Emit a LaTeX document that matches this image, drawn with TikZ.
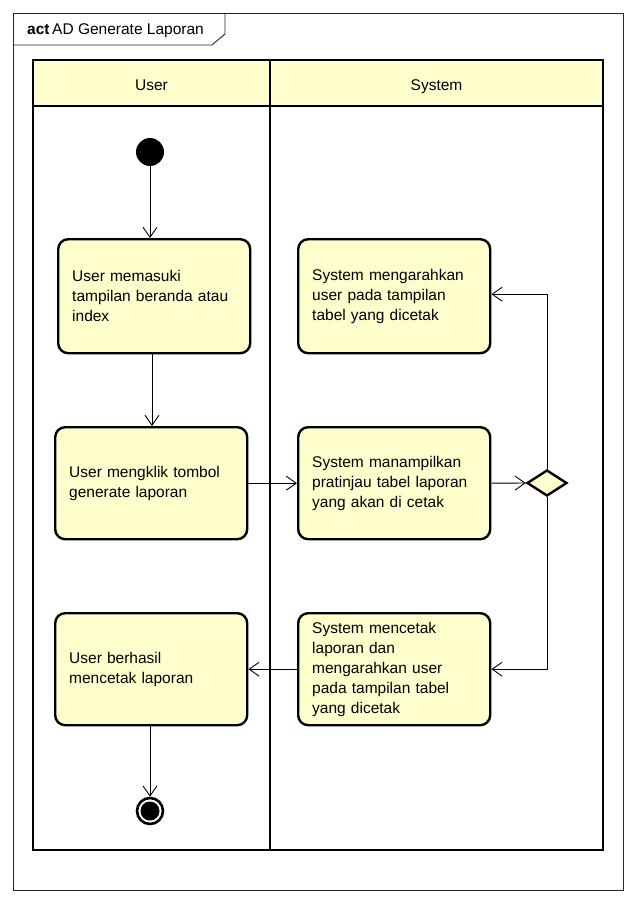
\documentclass[tikz,border=0pt]{standalone}
\usepackage{fontspec}
\setmainfont{Liberation Sans}
\usetikzlibrary{arrows.meta,shapes.geometric,calc}
\definecolor{actfill}{RGB}{255,255,206}
\begin{document}
\begin{tikzpicture}[x=1pt,y=-1pt,
  font=\fontsize{15.5}{20}\selectfont,
  act/.style={draw=black,line width=2.4pt,fill=actfill,rounded corners=10pt,
    minimum width=192pt,inner xsep=14pt,inner ysep=0pt,align=left,text width=164pt,anchor=north west},
  flow/.style={draw=black,line width=0.9pt,-{Straight Barb[length=10pt,width=14pt,line width=0.9pt]}},
  lane/.style={draw=black,line width=2.6pt}]
\useasboundingbox (0,0) rectangle (636,904);
\fill[white] (0,0) rectangle (636,904);
% outer frame
\draw[line width=0.9pt,draw=black!85] (13,13) rectangle (623,890);
\draw[line width=0.9pt,draw=black!85] (13,45) -- (212,45) -- (225,34) -- (225,13);
\node[anchor=west,inner sep=0pt] (title) at (27,31) {\textbf{act}\,AD Generate Laporan};
% swimlanes
\fill[actfill] (33,60) rectangle (603,106);
\draw[lane] (33,60) rectangle (603,850);
\draw[lane] (33,106) -- (603,106);
\draw[lane] (270,60) -- (270,850);
\node[anchor=base,inner sep=0pt] (hu) at (151.5,91) {User};
\node[anchor=base,inner sep=0pt] (hs) at (436.5,91) {System};
% nodes
\node[circle,fill=black,minimum size=28pt,inner sep=0pt] (st) at (150,152) {};
\node[act,minimum height=114pt] (a1) at (57,238) {User memasuki\\tampilan beranda atau\\index};
\node[act,minimum height=112pt] (a2) at (54,426) {User mengklik tombol\\generate laporan};
\node[act,minimum height=112pt] (a3) at (54,612) {User berhasil\\mencetak laporan};
\node[act,minimum height=114pt] (s1) at (297,238) {System mengarahkan\\user pada tampilan\\tabel yang dicetak};
\node[act,minimum height=112pt] (s2) at (297,426) {System manampilkan\\pratinjau tabel laporan\\yang akan di cetak};
\node[act,minimum height=112pt] (s3) at (297,612) {System mencetak\\laporan dan\\mengarahkan user\\pada tampilan tabel\\yang dicetak};
\node[diamond,draw=black,line width=2.4pt,fill=actfill,minimum width=40pt,minimum height=26pt,inner sep=0pt] (d) at (547,483) {};
\node[circle,draw=black,line width=2.6pt,fill=white,minimum size=26pt,inner sep=0pt] (en) at (150,811) {};
\node[circle,fill=black,minimum size=19pt,inner sep=0pt] (enin) at (en) {};
% flows
\draw[flow] (st) -- (st |- a1.north);
\draw[flow] (a1.south -| 152,0) -- (a2.north -| 152,0);
\draw[flow] (a2.east) -- (s2.west);
\draw[flow] (s2.east) -- (d.west);
\draw[flow] (d.north) |- ($(s1.east)+(0,-2)$);
\draw[flow] (d.south) |- (s3.east);
\draw[flow] (s3.west) -- (a3.east);
\draw[flow] (a3.south -| en) -- (en.north);
\end{tikzpicture}
\end{document}
